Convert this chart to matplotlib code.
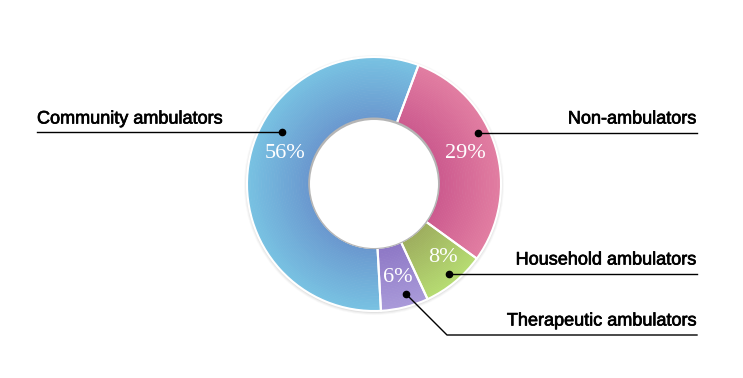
import matplotlib.pyplot as plt
import matplotlib.patheffects as pe
import numpy as np
from matplotlib.colors import to_rgb

# data (clockwise from the top, starting with Non-ambulators)
categories = ["Non-ambulators", "Household ambulators", "Therapeutic ambulators", "Community ambulators"]
shares = [29, 8, 6, 56]
pct_labels = ["29%", "8%", "6%", "56%"]

# colours: outer edge / inner edge of the ring
outer_cols = ["#e27ea2", "#b6dc72", "#a99ad9", "#78c2e2"]
inner_cols = ["#cc5a8e", "#9eae5e", "#8e78c6", "#6a98cf"]

W, H = 743, 378
cx, cy = 374, H - 184
r_out, r_in = 127, 64

fig = plt.figure(figsize=(W / 100, H / 100), dpi=100)
ax = fig.add_axes([0, 0, 1, 1])
ax.set_xlim(0, W)
ax.set_ylim(0, H)
ax.set_aspect("equal")
ax.axis("off")

# soft shadow round the outside
for k, a in enumerate([0.05, 0.08, 0.12]):
    ax.add_patch(plt.Circle((cx, cy - 1), r_out + 3 - k, color="#888888", alpha=a, lw=0))

# radial gradient: many thin rings from outer to inner colour
n = 40
for i in range(n):
    t = i / (n - 1)
    rad = r_out - i * (r_out - r_in) / n
    cols = [tuple(np.array(to_rgb(o)) * (1 - t) + np.array(to_rgb(c)) * t)
            for o, c in zip(outer_cols, inner_cols)]
    ax.pie(shares, colors=cols, startangle=69.5, counterclock=False,
           radius=rad, center=(cx, cy), frame=True,
           wedgeprops=dict(width=(r_out - r_in) / n + 0.6, lw=0))

# white separators
ax.pie(shares, colors=["none"] * 4, startangle=69.5, counterclock=False,
       radius=r_out, center=(cx, cy), frame=True,
       wedgeprops=dict(width=r_out - r_in, lw=1.5, edgecolor="white", fill=False))

# inner hole with shadow (a bit heavier at the top)
ax.add_patch(plt.Circle((cx, cy + 0.7), r_in + 1.8, color="#b5b5b5", lw=0))
ax.add_patch(plt.Circle((cx, cy), r_in, color="white", lw=0))

ax.set_xlim(0, W)
ax.set_ylim(0, H)

# percentage labels
pct_pos = [(465, 153), (443, 257), (398, 278), (285, 153)]
for lab, (px, py) in zip(pct_labels, pct_pos):
    ax.text(px, H - py, lab, color="white", fontsize=16, family="Liberation Serif",
            ha="center", va="center")

# leader lines and category labels
dots = [(478, 133), (449, 274), (406, 294), (282, 132)]
paths = [
    [(478, 133), (697, 133)],
    [(449, 274), (697, 274)],
    [(406, 294), (447, 335), (697, 335)],
    [(282, 132), (37, 132)],
]
label_xy = [(696, 119, "right"), (696, 260, "right"), (696, 321, "right"), (37, 119, "left")]

for name, d, p, (lx, ly, ha) in zip(categories, dots, paths, label_xy):
    xs = [q[0] for q in p]
    ys = [H - q[1] for q in p]
    ax.plot(xs, ys, color="black", lw=1)
    ax.plot(d[0], H - d[1], "o", color="black", ms=4.5)
    ax.text(lx, H - ly, name, fontsize=13, family="Liberation Sans",
            ha=ha, va="center", color="black",
            path_effects=[pe.withStroke(linewidth=0.5, foreground="black")])

fig.savefig("out.png", dpi=100)
